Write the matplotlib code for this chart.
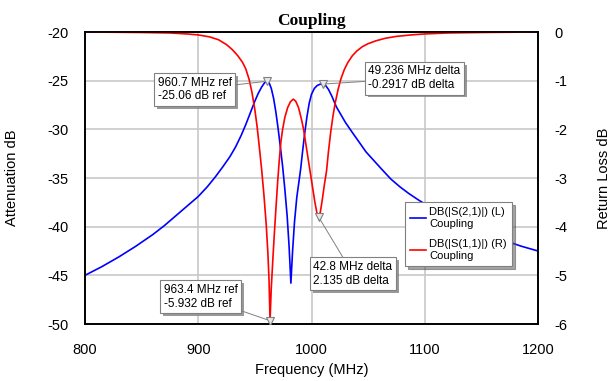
import matplotlib
matplotlib.use("Agg")
import matplotlib.pyplot as plt
import matplotlib.patheffects as pe

# S21 (left axis)
freq_s21 = [800, 815, 830, 845, 860, 870, 880, 890, 900, 908, 915, 922, 928, 933, 938, 942,
            946, 950, 953, 956, 958.5, 960.7, 962.5, 964.5, 966.5, 968.5, 970.5, 972.5, 974.5,
            976.5, 978.5, 980.2, 981.8, 983.3, 985, 987, 989, 990.5, 992, 994, 996, 998, 1000,
            1002.5, 1005, 1007.5, 1009.9, 1012.5, 1015, 1018, 1022, 1026, 1030, 1036.8, 1042,
            1048, 1055, 1062, 1070, 1078, 1086, 1095, 1105, 1115, 1125, 1140, 1155, 1170, 1185,
            1200]
s21_db = [-45.0, -44.1, -43.1, -42.0, -40.8, -39.9, -38.9, -37.9, -36.9, -35.9, -34.9, -33.8,
          -32.8, -31.8, -30.6, -29.5, -28.3, -27.1, -26.3, -25.65, -25.22, -25.06, -25.2, -25.8,
          -26.8, -28.2, -29.9, -31.8, -33.8, -36.2, -38.9, -42.0, -45.8, -42.5, -39.5, -37.0,
          -35.3, -34.0, -32.4, -30.4, -28.7, -27.3, -26.4, -25.8, -25.5, -25.37, -25.35, -25.5,
          -25.9, -26.6, -27.7, -28.5, -29.3, -30.45, -31.3, -32.3, -33.2, -34.1, -35.1, -35.9,
          -36.6, -37.3, -38.0, -38.7, -39.3, -40.1, -40.8, -41.4, -42.0, -42.5]

# S11 (right axis)
freq_s11 = [800, 850, 875, 890, 900, 910, 918, 925, 930, 935, 939, 942, 945, 947.5, 950, 952,
            954, 956, 958, 960, 961.5, 962.5, 963.4, 964.4, 965.8, 967.3, 968.8, 970.2, 971.5,
            973, 974.5, 976.5, 979, 981.5, 983.9, 986, 988.5, 991, 993, 995, 997, 999, 1001,
            1003, 1004.8, 1006.2, 1007.8, 1009.5, 1011.3, 1013.3, 1015, 1017, 1019, 1021,
            1023.5, 1026, 1029, 1032, 1036, 1040, 1045, 1050, 1057, 1065, 1075, 1088, 1100,
            1120, 1150, 1200]
s11_db = [0.0, -0.01, -0.02, -0.04, -0.06, -0.1, -0.16, -0.26, -0.36, -0.49, -0.62, -0.76,
          -0.98, -1.25, -1.6, -1.95, -2.38, -2.83, -3.35, -3.95, -4.55, -5.1, -5.932, -5.3,
          -4.7, -4.1, -3.55, -3.05, -2.65, -2.25, -2.0, -1.75, -1.55, -1.43, -1.38, -1.42,
          -1.55, -1.78, -2.0, -2.3, -2.6, -2.9, -3.2, -3.5, -3.72, -3.797, -3.7, -3.45, -3.15,
          -2.85, -2.45, -2.05, -1.72, -1.45, -1.18, -0.96, -0.77, -0.63, -0.49, -0.39, -0.3,
          -0.24, -0.18, -0.13, -0.09, -0.06, -0.04, -0.02, -0.01, 0.0]

# marker readouts
ref_s21 = (960.7, -25.06)
delta_s21 = (49.236, -0.2917)
ref_s11 = (963.4, -5.932)
delta_s11 = (42.8, 2.135)

x_ticks = [800, 900, 1000, 1100, 1200]
left_ticks = [-20, -25, -30, -35, -40, -45, -50]
right_ticks = [0, -1, -2, -3, -4, -5, -6]

plt.rcParams["font.family"] = ["Liberation Sans", "DejaVu Sans"]
plt.rcParams["axes.unicode_minus"] = False

fig = plt.figure(figsize=(6.14, 3.81), dpi=100)
ax = fig.add_axes([85 / 614, 1 - 324 / 381, 453 / 614, 292 / 381])
ax2 = ax.twinx()

ax.plot(freq_s21, s21_db, color="#0000ff", lw=1.2)
ax2.plot(freq_s11, s11_db, color="#ff0000", lw=1.2)

ax.set_xlim(800, 1200)
ax.set_ylim(-50, -20)
ax2.set_ylim(-6, 0)
ax.set_xticks(x_ticks)
ax.set_yticks(left_ticks)
ax2.set_yticks(right_ticks)
ax.grid(True, color="#c8c8c8", lw=1.2)
ax.set_axisbelow(True)

ax.tick_params(axis="both", length=0, labelsize=10.5)
ax.tick_params(axis="x", pad=14)
ax.tick_params(axis="y", pad=12)
ax2.tick_params(axis="y", length=0, labelsize=10.5, pad=12)
for a in (ax, ax2):
    for s in a.spines.values():
        s.set_linewidth(1.2)

ax.set_xlabel("Frequency (MHz)", fontsize=10.5)
ax.set_ylabel("Attenuation dB", fontsize=10.5)
ax2.set_ylabel("Return Loss dB", fontsize=10.5)
ax.xaxis.set_label_coords(0.5, -0.135)
ax.yaxis.set_label_coords(-0.145, 0.5)
ax2.yaxis.set_label_coords(1.13, 0.5)
ax.set_title("Coupling", family="Liberation Serif", fontweight="bold", fontsize=12.5, pad=5)

# markers and their readout boxes
s21_pts = [ref_s21, (ref_s21[0] + delta_s21[0], ref_s21[1] + delta_s21[1])]
s11_pts = [ref_s11, (ref_s11[0] + delta_s11[0], ref_s11[1] + delta_s11[1])]
labels = [
    (s21_pts[0], ax, f"{ref_s21[0]} MHz ref\n{ref_s21[1]} dB ref", (897, -25.9)),
    (s21_pts[1], ax, f"{delta_s21[0]} MHz delta\n{delta_s21[1]} dB delta", (1091, -24.75)),
    (s11_pts[0], ax2, f"{ref_s11[0]} MHz ref\n{ref_s11[1]} dB ref", (902, -5.44)),
    (s11_pts[1], ax2, f"{delta_s11[0]} MHz delta\n{delta_s11[1]} dB delta", (1036.5, -4.97)),
]
shadow = [pe.withSimplePatchShadow(offset=(2, -2), shadow_rgbFace="#808080", alpha=0.8)]
for (px, py), a, txt, (tx, ty) in labels:
    ax2.plot(px, py, marker="v", ms=6, mfc="#e8e8e8", mec="#808080", mew=0.8,
             transform=a.transData, zorder=5)
    t = ax2.annotate(txt, xy=(px, py), xycoords=a.transData, xytext=(tx, ty),
                     textcoords=a.transData, ha="center", va="center", fontsize=8.5,
                     multialignment="left", zorder=6,
                     bbox=dict(boxstyle="square,pad=0.3", fc="white", ec="#808080", lw=0.8),
                     arrowprops=dict(arrowstyle="-", color="#808080", lw=0.7,
                                     shrinkA=0, shrinkB=2))
    t.get_bbox_patch().set_path_effects(shadow)

h1 = ax.get_lines()[0]
h2 = ax2.get_lines()[0]
leg = ax2.legend([h1, h2], ["DB(|S(2,1)|) (L)\nCoupling", "DB(|S(1,1)|) (R)\nCoupling"],
                 loc="upper left", bbox_to_anchor=(0.706, 0.418), fontsize=8,
                 fancybox=False, shadow=True, framealpha=1, edgecolor="#808080",
                 handlelength=1.4, handletextpad=0.3, borderpad=0.5, labelspacing=0.9,
                 borderaxespad=0)
leg.set_zorder(10)
leg.get_frame().set_linewidth(0.8)

fig.savefig("out.png", dpi=100)
